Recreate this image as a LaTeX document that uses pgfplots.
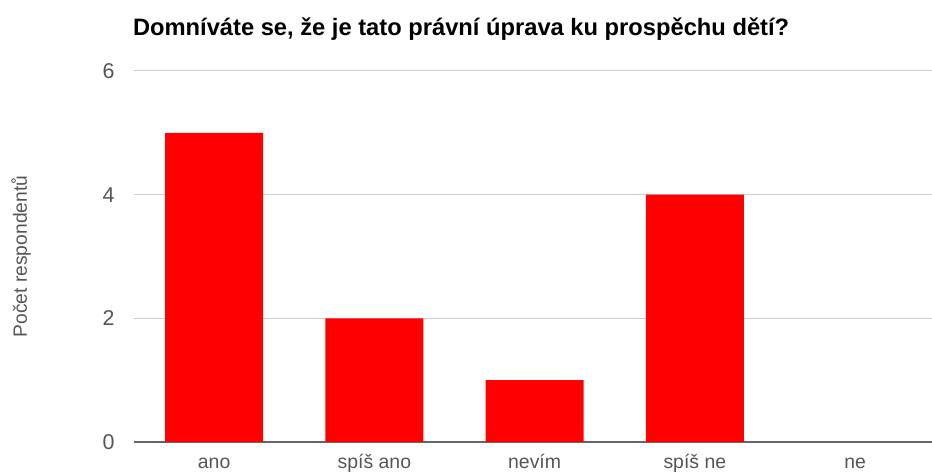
\documentclass[border=0pt]{standalone}
\usepackage{pgfplots}
\pgfplotsset{compat=1.18}
\usepackage{fontspec}
\setmainfont{Liberation Sans}
\definecolor{barred}{HTML}{FF0000}
\definecolor{gridc}{HTML}{CCCCCC}
\definecolor{axisc}{HTML}{666666}
\definecolor{tickc}{HTML}{555555}
\begin{document}
\begin{tikzpicture}
\useasboundingbox (-134bp,-33bp) rectangle (798bp,442bp);
\begin{axis}[
  at={(0,0)}, anchor=south west,
  scale only axis,
  width=798bp, height=371bp,
  xmin=-0.5, xmax=4.48,
  ymin=0, ymax=6,
  ytick={0,2,4,6},
  xtick=data,
  xticklabels={ano,spíš ano,nevím,spíš ne,ne},
  axis x line*=bottom,
  axis y line*=left,
  y axis line style={draw=none},
  ymajorgrids,
  grid style={gridc, line width=1pt},
  x axis line style={axisc, line width=1.5pt, -},
  major tick length=0pt,
  /pgf/number format/assume math mode=true,
  ticklabel style={text=tickc},
  yticklabel style={anchor=east, xshift=-16bp, font=\fontsize{21.5}{24}\selectfont},
  xticklabel style={anchor=base, yshift=-26bp, font=\fontsize{19.5}{22}\selectfont},
  ybar, bar width=0.612,
  title={Domníváte se, že je tato právní úprava ku prospěchu dětí?},
  title style={at={(0,1)}, anchor=base west, yshift=30bp, xshift=-4.5bp, font=\bfseries\fontsize{23.8}{28}\selectfont},
  ylabel={Počet respondentů},
  every axis y label/.style={at={([xshift=-113bp]axis description cs:0,0.5)}, rotate=90, anchor=center, font=\fontsize{19.3}{22}\selectfont, text=tickc},
]
\addplot[fill=barred, draw=none] coordinates {(0,5) (1,2) (2,1) (3,4) (4,0)};
\end{axis}
\end{tikzpicture}
\end{document}
